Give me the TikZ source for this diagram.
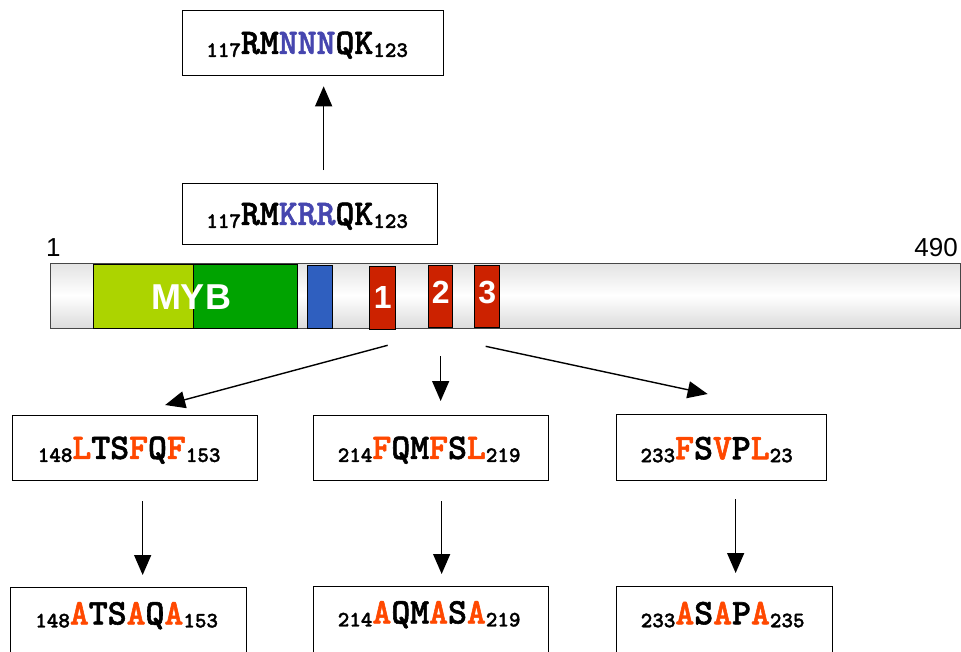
\documentclass[tikz,border=0pt]{standalone}
\usepackage{fontspec}
\setmainfont{Liberation Sans}
\newfontfamily\seqmono{lmmonolt10-bold.otf}[FakeBold=1.5]
\usetikzlibrary{arrows.meta}

\definecolor{mybA}{RGB}{172,212,0}
\definecolor{mybB}{RGB}{0,163,0}
\definecolor{nlsblue}{RGB}{47,95,191}
\definecolor{motifred}{RGB}{204,34,0}
\definecolor{seqblue}{RGB}{70,70,175}
\definecolor{seqorange}{RGB}{255,72,0}
\definecolor{barline}{RGB}{70,70,70}

% residue numbers and sequences
\newcommand\resnum[1]{\raisebox{-3pt}{\fontsize{22}{22}\selectfont#1}}
\newcommand\seqfont{\seqmono\fontsize{36}{36}\selectfont}
\newcommand\bl[1]{\textcolor{seqblue}{#1}}
\newcommand\orn[1]{\textcolor{seqorange}{#1}}

\tikzset{
  seqbox/.style={draw=black, line width=1.3pt, fill=white, inner sep=0pt, anchor=north west},
  seqtext/.style={inner sep=0pt, font=\seqfont},
  arr/.style={line width=1.4pt, -{Triangle[length=20pt,width=17pt]}},
  domainbox/.style={draw=black, line width=1.3pt, inner sep=0pt, anchor=north west},
  domlabel/.style={text=white, font=\bfseries\fontsize{32}{32}\selectfont, inner sep=0pt}
}

\begin{document}
\begin{tikzpicture}[x=1pt,y=-1pt]
\useasboundingbox (0,0) rectangle (961,651);

% protein bar
\shade[top color=gray!22, bottom color=gray!28, middle color=white]
  (50,263) rectangle (960,328);
\node[draw=barline, line width=1.3pt, minimum width=910pt, minimum height=65pt,
  inner sep=0pt, anchor=north west] (bar) at (50,263) {};
\node[anchor=base west, inner sep=0pt, font=\fontsize{26}{26}\selectfont] (start) at (46,256) {1};
\node[anchor=base east, inner sep=0pt, font=\fontsize{26}{26}\selectfont] (end) at (958,256) {490};

% domains
\node[domainbox, fill=mybA, minimum width=100pt, minimum height=64pt] (mybl) at (93,264) {};
\node[domainbox, fill=mybB, minimum width=104pt, minimum height=64pt] (mybr) at (193,264) {};
\node[text=white, font=\bfseries\fontsize{36}{36}\selectfont, inner sep=0pt] (myb) at (191,297) {MYB};
\node[domainbox, fill=nlsblue, minimum width=25pt, minimum height=63pt] (nls) at (307,265) {};
\node[domainbox, fill=motifred, minimum width=26pt, minimum height=63pt] (r1) at (369,266) {};
\node[domainbox, fill=motifred, minimum width=24pt, minimum height=62pt] (r2) at (428,265) {};
\node[domainbox, fill=motifred, minimum width=25pt, minimum height=62pt] (r3) at (474,265) {};
\node[domlabel] (n1) at ([yshift=1pt]r1.center) {1};
\node[domlabel] (n2) at ([yshift=4pt]r2.center) {2};
\node[domlabel] (n3) at ([yshift=4pt]r3.center) {3};

% NLS boxes
\node[seqbox, minimum width=261pt, minimum height=65pt] (nlsmut) at (182,10) {};
\node[seqtext] at ([xshift=-6pt,yshift=-2pt]nlsmut.center) {\resnum{117}RM\bl{NNN}QK\resnum{123}};
\node[seqbox, minimum width=255pt, minimum height=61pt] (nlswt) at (182,183) {};
\node[seqtext] at ([xshift=-3pt,yshift=-2pt]nlswt.center) {\resnum{117}RM\bl{KRR}QK\resnum{123}};

% motif boxes
\node[seqbox, minimum width=245pt, minimum height=65pt] (m1) at (12,415) {};
\node[seqtext] at ([xshift=-6pt,yshift=-2pt]m1.center) {\resnum{148}\orn{L}TS\orn{F}Q\orn{F}\resnum{153}};
\node[seqbox, minimum width=235pt, minimum height=65pt] (m2) at (313,415) {};
\node[seqtext] at ([xshift=-2pt,yshift=-2pt]m2.center) {\resnum{214}\orn{F}QM\orn{F}S\orn{L}\resnum{219}};
\node[seqbox, minimum width=210pt, minimum height=66pt] (m3) at (616,414) {};
\node[seqtext] at ([xshift=-5pt,yshift=-2pt]m3.center) {\resnum{233}\orn{F}S\orn{V}P\orn{L}\resnum{23}};

% mutant boxes
\node[seqbox, minimum width=236pt, minimum height=66pt] (a1) at (10,587) {};
\node[seqtext] at ([xshift=-2pt,yshift=5pt]a1.center) {\resnum{148}\orn{A}TS\orn{A}Q\orn{A}\resnum{153}};
\node[seqbox, minimum width=235pt, minimum height=66pt] (a2) at (313,586) {};
\node[seqtext] at ([xshift=-2pt,yshift=5pt]a2.center) {\resnum{214}\orn{A}QM\orn{A}S\orn{A}\resnum{219}};
\node[seqbox, minimum width=216pt, minimum height=66pt] (a3) at (616,586) {};
\node[seqtext] at ([xshift=-2pt,yshift=5pt]a3.center) {\resnum{233}\orn{A}S\orn{A}P\orn{A}\resnum{235}};

% arrows
\draw[arr] ([xshift=13.5pt,yshift=13pt]nlswt.north) -- ([xshift=10.5pt,yshift=-10pt]nlsmut.south);
\draw[arr] ([xshift=5pt,yshift=-15pt]r1.south) -- ([xshift=30pt,yshift=10pt]m1.north);
\draw[arr] ([xshift=0pt,yshift=-28pt]r2.south) -- ([xshift=9.5pt,yshift=14pt]m2.north);
\draw[arr] ([xshift=-1.5pt,yshift=-18pt]r3.south) -- ([xshift=-14pt,yshift=20pt]m3.north);
\draw[arr] ([xshift=7.5pt,yshift=-20pt]m1.south) -- ([xshift=14pt,yshift=12pt]a1.north);
\draw[arr] ([xshift=10.5pt,yshift=-20pt]m2.south) -- ([xshift=10.5pt,yshift=12pt]a2.north);
\draw[arr] ([xshift=14pt,yshift=-18pt]m3.south) -- ([xshift=11pt,yshift=13pt]a3.north);
\end{tikzpicture}
\end{document}
